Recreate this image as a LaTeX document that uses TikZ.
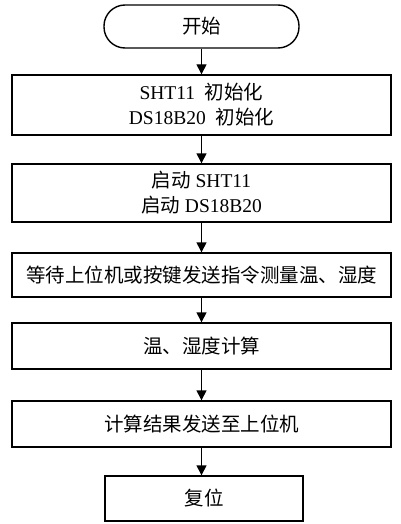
\documentclass[tikz,border=0pt]{standalone}
\usepackage{fontspec}
\setmainfont{Liberation Serif}
\newfontfamily\cjk{Noto Sans CJK SC}
\usetikzlibrary{arrows.meta}

\tikzset{
	procbox/.style={draw, line width=1.4pt, minimum width=379pt, inner sep=0pt, align=center},
	termbox/.style={draw, line width=1.4pt, inner sep=0pt, align=center},
	flowarrow/.style={line width=1.4pt, -{Triangle[length=10pt,width=10pt]}}
}

\begin{document}
\begin{tikzpicture}[x=1pt, y=-1pt, every node/.style={font=\fontsize{19.5}{25}\selectfont}]
	\useasboundingbox (0,0) rectangle (400,524);
	\node[termbox, minimum width=195pt, minimum height=43pt, rounded corners=21pt] (start) at (201.5,26.5) {\cjk 开始};
	\node[procbox, minimum height=60pt] (init) at (201.5,105) {SHT11\ \ {\cjk 初始化}\\DS18B20\ \ {\cjk 初始化}};
	\node[procbox, minimum height=58pt] (launch) at (201.5,193) {{\cjk 启动} SHT11\\{\cjk 启动} DS18B20};
	\node[procbox, minimum height=44pt] (wait) at (201.5,275) {\cjk 等待上位机或按键发送指令测量温、湿度};
	\node[procbox, minimum height=46pt] (calc) at (201.5,346) {\cjk 温、湿度计算};
	\node[procbox, minimum height=46pt] (send) at (201.5,424) {\cjk 计算结果发送至上位机};
	\node[termbox, minimum width=198pt, minimum height=45pt] (reset) at (204,498.5) {\cjk 复位};
	% arrows between the steps
	\draw[flowarrow] (start) -- (init);
	\draw[flowarrow] (init) -- (launch);
	\draw[flowarrow] (launch) -- (wait);
	\draw[flowarrow] (wait) -- (calc);
	\draw[flowarrow] (calc) -- (send);
	\draw[flowarrow] (send.south) -- (send.south |- reset.north);
\end{tikzpicture}
\end{document}
